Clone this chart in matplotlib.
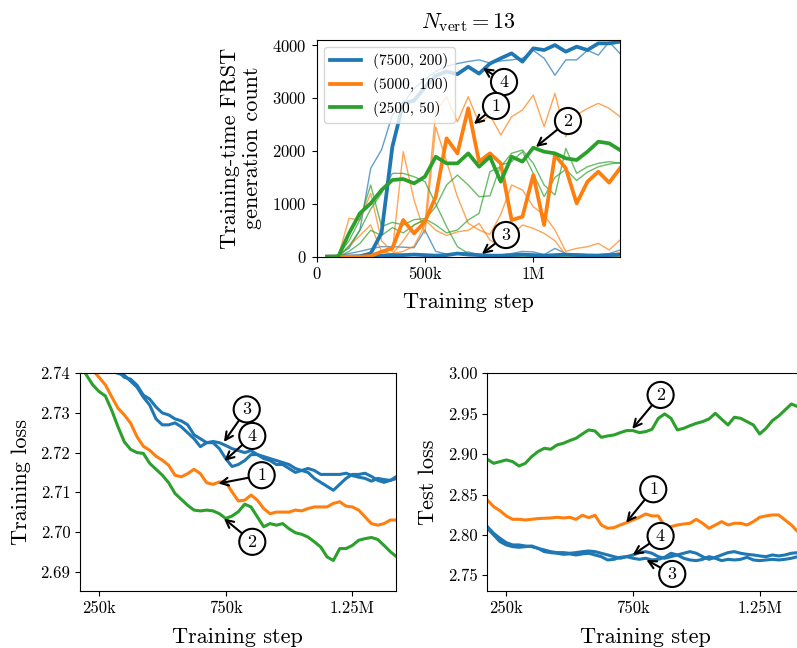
import matplotlib
matplotlib.use("Agg")
import matplotlib.pyplot as plt
from matplotlib.ticker import FixedLocator, FixedFormatter, FormatStrFormatter

plt.rcParams['font.family'] = 'serif'
plt.rcParams['font.serif'] = ['cmr10']
plt.rcParams['mathtext.fontset'] = 'cm'
plt.rcParams['axes.unicode_minus'] = False
plt.rcParams['axes.formatter.use_mathtext'] = True

# ---------------- top panel data (steps in thousands) ----------------
top_steps_k = [50, 100, 150, 200, 250, 300, 350, 400, 450, 500, 550, 600, 650, 700,
               750, 800, 850, 900, 950, 1000, 1050, 1100, 1150, 1200, 1250, 1300, 1350, 1400]

run4_blue = [0, 0, 0, 10, 60, 450, 2080, 2900, 2950, 3200, 3420, 3500, 3450, 3590,
             3460, 3650, 3750, 3843, 3686, 3938, 3906, 4000, 3875, 3969, 3906, 4032, 4032, 4063]
run3_blue = [0, 0, 0, 0, 10, 20, 30, 30, 40, 30, 20, 30, 60, 40,
             30, 20, 20, 30, 40, 30, 20, 30, 40, 30, 20, 20, 30, 40]
run1_orange = [0, 0, 0, 0, 13, 95, 158, 693, 441, 661, 1134, 2237, 1953, 2804,
               1796, 1953, 1764, 693, 756, 1544, 599, 1922, 1670, 1008, 1418, 1607, 1400, 1670]
run2_green = [0, 0, 441, 819, 1008, 1260, 1449, 1468, 1386, 1512, 1890, 1764, 1764, 1953,
              1701, 1890, 1418, 1890, 1796, 2060, 1985, 1953, 1859, 1827, 1985, 2174, 2142, 2016]

thin_blue = [
    [0, 30, 160, 500, 1670, 2020, 2680, 2900, 3180, 3350, 3500, 3600, 3650, 3690,
     3720, 3660, 3700, 3720, 3750, 3900, 3750, 3430, 3720, 3720, 3900, 3810, 4060, 3840],
    [0, 20, 60, 100, 150, 190, 190, 180, 170, 504, 100, 50, 60, 90,
     40, 20, 30, 60, 100, 90, 40, 157, 60, 30, 20, 40, 60, 126],
]
thin_orange = [
    [0, 0, 0, 0, 0, 30, 60, 100, 200, 600, 2740, 3025, 2550, 3024,
     2520, 2678, 2300, 2646, 2772, 3055, 2457, 3087, 2268, 2678, 2803, 2898, 2803, 2646],
    [0, 0, 725, 693, 1197, 300, 100, 1985, 1071, 440, 2450, 1800, 1134, 630,
     504, 420, 800, 1355, 1261, 945, 788, 504, 100, 157, 189, 252, 126, 315],
    [0, 0, 200, 400, 600, 100, 50, 300, 600, 700, 500, 400, 470, 500,
     630, 315, 200, 400, 600, 535, 441, 300, 30, 60, 50, 40, 30, 80],
]
thin_green = [
    [0, 30, 300, 700, 1355, 570, 650, 600, 700, 720, 600, 450, 505, 694,
     820, 1607, 1700, 1955, 2017, 1765, 1355, 1166, 2049, 1576, 1700, 1765, 1796, 1765],
    [0, 0, 200, 500, 900, 1200, 1575, 1575, 1512, 1420, 1000, 570, 190, 60,
     10, 0, 0, 0, 10, 0, 0, 10, 0, 0, 10, 0, 0, 10],
    [0, 0, 100, 250, 500, 400, 550, 450, 600, 700, 945, 1355, 1543, 1355,
     1134, 1150, 1732, 1796, 1985, 1575, 1134, 1500, 1650, 1441, 1600, 1700, 1750, 1780],
]
legend_labels = ['(7500, 200)', '(5000, 100)', '(2500, 50)']

# ---------------- bottom panels data (steps in thousands) ----------------
bot_steps_k = [175, 200, 225, 250, 275, 300, 325, 350, 375, 400, 425, 450, 475, 500,
               525, 550, 575, 600, 625, 650, 675, 700, 725, 750, 775, 800, 825, 850,
               875, 900, 925, 950, 975, 1000, 1025, 1050, 1075, 1100, 1125, 1150, 1175,
               1200, 1225, 1250, 1275, 1300, 1325, 1350, 1375, 1400, 1425]

train_run2 = [2.742, 2.7396, 2.7371, 2.7354, 2.7343, 2.7307, 2.7265, 2.7227, 2.7208, 2.7200,
              2.7198, 2.7173, 2.7158, 2.7143, 2.7124, 2.7097, 2.7082, 2.7067, 2.7055, 2.7053,
              2.7055, 2.7053, 2.7046, 2.7034, 2.7040, 2.7051, 2.7070, 2.7063, 2.7038, 2.7013,
              2.7021, 2.7017, 2.7021, 2.7008, 2.6998, 2.6994, 2.6987, 2.6975, 2.6962, 2.6937,
              2.6928, 2.6958, 2.6958, 2.6966, 2.6979, 2.6983, 2.6986, 2.6981, 2.6966, 2.6950,
              2.6937]
train_run1 = [2.7425, 2.7417, 2.7408, 2.7390, 2.7371, 2.7341, 2.7312, 2.7295, 2.7274, 2.7240,
              2.7216, 2.7206, 2.7191, 2.7181, 2.7168, 2.7143, 2.7139, 2.7147, 2.7158, 2.7147,
              2.7124, 2.7120, 2.7126, 2.7126, 2.7101, 2.7078, 2.7080, 2.7093, 2.7080, 2.7059,
              2.7046, 2.7050, 2.7050, 2.7050, 2.7055, 2.7053, 2.7059, 2.7063, 2.7063, 2.7063,
              2.7072, 2.7076, 2.7065, 2.7063, 2.7055, 2.7038, 2.7021, 2.7017, 2.7021, 2.7030,
              2.7030]
train_run3 = [2.748, 2.746, 2.745, 2.743, 2.742, 2.741, 2.7405, 2.739, 2.7385, 2.737,
              2.7345, 2.7335, 2.7315, 2.730, 2.7295, 2.7285, 2.728, 2.727, 2.7245, 2.7235,
              2.7225, 2.7228, 2.7225, 2.7218, 2.721, 2.7205, 2.720, 2.7205, 2.7195, 2.719,
              2.7185, 2.718, 2.7175, 2.717, 2.716, 2.7155, 2.716, 2.7155, 2.7145, 2.7145,
              2.7145, 2.7145, 2.7148, 2.7142, 2.7138, 2.7135, 2.7128, 2.7135, 2.7132, 2.713,
              2.7135]
train_run4 = [2.749, 2.747, 2.745, 2.744, 2.742, 2.7405, 2.740, 2.7395, 2.738, 2.7365,
              2.734, 2.732, 2.7285, 2.727, 2.727, 2.7275, 2.7265, 2.725, 2.7235, 2.7215,
              2.7225, 2.7225, 2.721, 2.7185, 2.7165, 2.717, 2.718, 2.7195, 2.7195, 2.7185,
              2.718, 2.717, 2.717, 2.716, 2.715, 2.7155, 2.715, 2.7135, 2.7125, 2.7115,
              2.7105, 2.712, 2.7135, 2.7145, 2.7145, 2.7148, 2.714, 2.713, 2.7125, 2.713,
              2.714]

test_run2 = [2.8936, 2.8886, 2.8907, 2.8928, 2.8907, 2.8853, 2.8886, 2.8969, 2.9031, 2.9072,
             2.9060, 2.9113, 2.9134, 2.9167, 2.9196, 2.9249, 2.9299, 2.9286, 2.9208, 2.9225,
             2.9237, 2.9266, 2.9291, 2.9291, 2.9266, 2.9278, 2.9307, 2.9443, 2.9497, 2.9443,
             2.9299, 2.9319, 2.9352, 2.9381, 2.9402, 2.9435, 2.9505, 2.9431, 2.9361, 2.9456,
             2.9443, 2.9402, 2.9361, 2.9249, 2.9319, 2.9414, 2.9472, 2.9546, 2.9620, 2.9588,
             2.9550]
test_run1 = [2.8433, 2.8350, 2.8300, 2.8235, 2.8193, 2.8193, 2.8185, 2.8193, 2.8202, 2.8206,
             2.8210, 2.8218, 2.8210, 2.8218, 2.8193, 2.8243, 2.8214, 2.8243, 2.8123, 2.8082,
             2.8090, 2.8123, 2.8152, 2.8185, 2.8218, 2.8259, 2.8235, 2.8235, 2.8111, 2.8102,
             2.8123, 2.8135, 2.8144, 2.8193, 2.8144, 2.8082, 2.8123, 2.8164, 2.8123, 2.8144,
             2.8144, 2.8123, 2.8164, 2.8218, 2.8235, 2.8247, 2.8247, 2.8185, 2.8123, 2.8041,
             2.8020]
test_run4 = [2.8103, 2.8020, 2.7958, 2.7904, 2.7876, 2.7876, 2.7863, 2.7855, 2.7834, 2.7814,
             2.7793, 2.7781, 2.7781, 2.7773, 2.7781, 2.7793, 2.7801, 2.7793, 2.7773, 2.7752,
             2.7731, 2.7711, 2.7731, 2.7752, 2.7781, 2.7793, 2.7773, 2.7731, 2.7711, 2.7731,
             2.7752, 2.7773, 2.7793, 2.7773, 2.7731, 2.7698, 2.7723, 2.7752, 2.7781, 2.7793,
             2.7773, 2.7760, 2.7752, 2.7740, 2.7731, 2.7752, 2.7740, 2.7752, 2.7773, 2.7781,
             2.7780]
test_run3 = [2.8082, 2.8000, 2.7917, 2.7876, 2.7855, 2.7847, 2.7855, 2.7863, 2.7834, 2.7793,
             2.7781, 2.7773, 2.7760, 2.7765, 2.7752, 2.7765, 2.7773, 2.7752, 2.7731, 2.7690,
             2.7698, 2.7723, 2.7731, 2.7711, 2.7698, 2.7711, 2.7690, 2.7698, 2.7723, 2.7773,
             2.7752, 2.7711, 2.7690, 2.7682, 2.7698, 2.7731, 2.7711, 2.7682, 2.7698, 2.7690,
             2.7698, 2.7723, 2.7690, 2.7682, 2.7690, 2.7698, 2.7690, 2.7698, 2.7711, 2.7731,
             2.7730]

BLUE, ORANGE, GREEN = 'tab:blue', 'tab:orange', 'tab:green'

top_x = [s * 1000 for s in top_steps_k]
bot_x = [s * 1000 for s in bot_steps_k]

fig = plt.figure(figsize=(7.97, 6.48), dpi=100)
W, H = 797.0, 648.0


def axes_px(l, t, r, b):
    return fig.add_axes([l / W, 1 - b / H, (r - l) / W, (b - t) / H])


def circ(ax, num, xy, xytext):
    ax.annotate(r'$\mathbf{%s}$' % num, xy=xy, xytext=xytext, ha='center', va='center',
                fontsize=13,
                bbox=dict(boxstyle='circle,pad=0.28', fc='white', ec='black', lw=1.5),
                arrowprops=dict(arrowstyle='->', color='black', lw=1.5,
                                shrinkA=0, shrinkB=0, mutation_scale=14),
                zorder=10)


# ---------------- top panel ----------------
ax = axes_px(316.5, 39.5, 620, 256.7)
for ys in thin_blue:
    ax.plot(top_x, ys, color=BLUE, lw=1.0, alpha=0.7)
for ys in thin_orange:
    ax.plot(top_x, ys, color=ORANGE, lw=1.0, alpha=0.7)
for ys in thin_green:
    ax.plot(top_x, ys, color=GREEN, lw=1.0, alpha=0.7)
ax.plot(top_x, run3_blue, color=BLUE, lw=2.7)
l4, = ax.plot(top_x, run4_blue, color=BLUE, lw=2.7)
l1, = ax.plot(top_x, run1_orange, color=ORANGE, lw=2.7)
l2, = ax.plot(top_x, run2_green, color=GREEN, lw=2.7)
ax.set_xlim(0, 1.4e6)
ax.set_ylim(0, 4105)
ax.xaxis.set_major_locator(FixedLocator([0, 500000, 1000000]))
ax.xaxis.set_major_formatter(FixedFormatter(['0', '500k', '1M']))
ax.yaxis.set_major_locator(FixedLocator([0, 1000, 2000, 3000, 4000]))
ax.tick_params(labelsize=12)
ax.set_xlabel('Training step', fontsize=16, labelpad=8)
ax.set_ylabel('Training-time FRST\ngeneration count', fontsize=16, labelpad=7)
ax.set_title(r'$N_{\rm vert} = 13$', fontsize=16, pad=8)
ax.legend([l4, l1, l2], legend_labels, loc='upper left', fontsize=11)
circ(ax, '4', (768e3, 3567), (865e3, 3302))
circ(ax, '1', (726e3, 2507), (828e3, 2849))
circ(ax, '2', (1012e3, 2073), (1160e3, 2565))
circ(ax, '3', (763e3, 51), (874e3, 410))

# ---------------- bottom left ----------------
ax2 = axes_px(80, 373.3, 395.7, 591)
ax2.plot(bot_x, train_run3, color=BLUE, lw=2.2)
ax2.plot(bot_x, train_run4, color=BLUE, lw=2.2)
ax2.plot(bot_x, train_run1, color=ORANGE, lw=2.2)
ax2.plot(bot_x, train_run2, color=GREEN, lw=2.2)
ax2.set_xlim(175e3, 1421e3)
ax2.set_ylim(2.6851, 2.74)
ax2.xaxis.set_major_locator(FixedLocator([250e3, 750e3, 1250e3]))
ax2.xaxis.set_major_formatter(FixedFormatter(['250k', '750k', '1.25M']))
ax2.yaxis.set_major_locator(FixedLocator([2.69, 2.70, 2.71, 2.72, 2.73, 2.74]))
ax2.yaxis.set_major_formatter(FormatStrFormatter('%.2f'))
ax2.tick_params(labelsize=12)
ax2.set_xlabel('Training step', fontsize=16, labelpad=8)
ax2.set_ylabel('Training loss', fontsize=16, labelpad=7)
circ(ax2, '3', (743e3, 2.7227), (833e3, 2.7309))
circ(ax2, '4', (745e3, 2.7179), (855e3, 2.7242))
circ(ax2, '1', (721e3, 2.7122), (892e3, 2.7143))
circ(ax2, '2', (743e3, 2.7034), (855e3, 2.6975))

# ---------------- bottom right ----------------
ax3 = axes_px(487.3, 373.3, 803, 591)
ax3.plot(bot_x, test_run3, color=BLUE, lw=2.2)
ax3.plot(bot_x, test_run4, color=BLUE, lw=2.2)
ax3.plot(bot_x, test_run1, color=ORANGE, lw=2.2)
ax3.plot(bot_x, test_run2, color=GREEN, lw=2.2)
ax3.set_xlim(175e3, 1421e3)
ax3.set_ylim(2.7306, 3.0)
ax3.xaxis.set_major_locator(FixedLocator([250e3, 750e3, 1250e3]))
ax3.xaxis.set_major_formatter(FixedFormatter(['250k', '750k', '1.25M']))
ax3.yaxis.set_major_locator(FixedLocator([2.75, 2.80, 2.85, 2.90, 2.95, 3.00]))
ax3.yaxis.set_major_formatter(FormatStrFormatter('%.2f'))
ax3.tick_params(labelsize=12)
ax3.set_xlabel('Training step', fontsize=16, labelpad=8)
ax3.set_ylabel('Test loss', fontsize=16, labelpad=7)
circ(ax3, '2', (747e3, 2.9311), (859e3, 2.9732))
circ(ax3, '1', (723e3, 2.8152), (830e3, 2.8565))
circ(ax3, '4', (749e3, 2.7752), (859e3, 2.7987))
circ(ax3, '3', (803e3, 2.7690), (905e3, 2.7517))

fig.savefig('out.png', dpi=100)
